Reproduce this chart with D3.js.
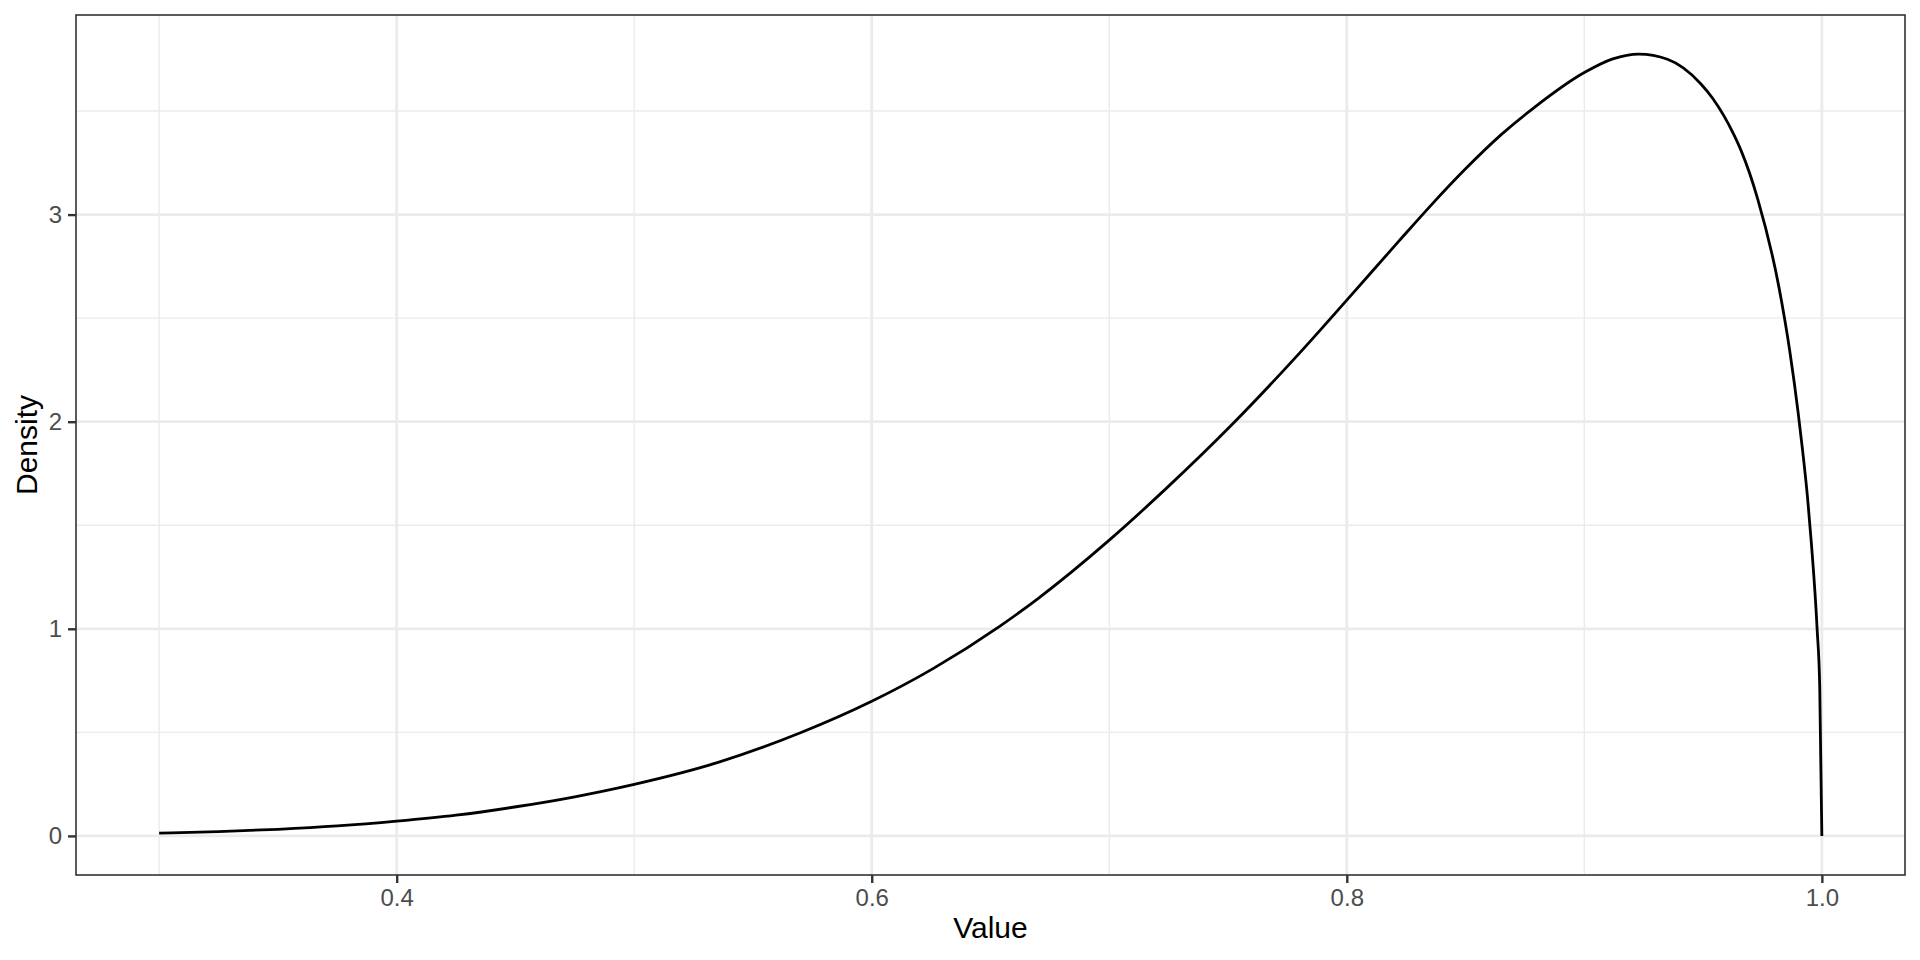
<!DOCTYPE html>
<html>
<head>
<meta charset="utf-8">
<script src="https://cdn.jsdelivr.net/npm/d3@7"></script>
<style>
  body { margin: 0; background: #fff; }
  text { font-family: "Liberation Sans", Arial, sans-serif; }
</style>
</head>
<body>
<script>
// values
const xValues = [0.300, 0.325, 0.350, 0.375, 0.400, 0.425, 0.451, 0.475, 0.486, 0.500,
    0.535, 0.570, 0.600, 0.626, 0.654, 0.670, 0.700, 0.724, 0.752, 0.780,
    0.800, 0.822, 0.836, 0.850, 0.865, 0.879, 0.900, 0.912, 0.923, 0.935,
    0.949, 0.954, 0.963, 0.966, 0.973, 0.982, 0.9865, 0.990, 0.992, 0.994,
    0.9956, 0.998, 0.9991, 1.000];
const densityValues = [0.013, 0.021, 0.032, 0.048, 0.071, 0.100, 0.142, 0.189, 0.214, 0.249,
    0.354, 0.498, 0.650, 0.809, 1.013, 1.146, 1.428, 1.678, 1.990, 2.330,
    2.587, 2.873, 3.052, 3.221, 3.386, 3.518, 3.686, 3.752, 3.775, 3.750,
    3.632, 3.562, 3.385, 3.309, 3.075, 2.645, 2.340, 2.045, 1.850, 1.630,
    1.410, 1.000, 0.720, 0.000];

const xTicks = [0.4, 0.6, 0.8, 1.0];
const xTickLabels = ["0.4", "0.6", "0.8", "1.0"];
const xMinor = [0.3, 0.5, 0.7, 0.9];
const yTicks = [0, 1, 2, 3];
const yTickLabels = ["0", "1", "2", "3"];
const yMinor = [0.5, 1.5, 2.5, 3.5];

const data = xValues.map((x, i) => ({x: x, y: densityValues[i]}));

// set the dimensions and margins of the graph
const W = 1920, H = 960;
const margin = {top: 15, right: 15, bottom: 85, left: 76},
    width = W - margin.left - margin.right,
    height = H - margin.top - margin.bottom;

const svg = d3.select("body").append("svg")
    .attr("width", W)
    .attr("height", H);

const g = svg.append("g")
    .attr("transform", `translate(${margin.left},${margin.top})`);

// ggplot-style 5% expansion
const xr = d3.extent(xValues), xpad = (xr[1] - xr[0]) * 0.05;
const x = d3.scaleLinear()
    .domain([xr[0] - xpad, xr[1] + xpad])
    .range([0, width]);

const ymax = d3.max(densityValues), ypad = ymax * 0.05;
const y = d3.scaleLinear()
    .domain([-ypad, ymax + ypad])
    .range([height, 0]);

// grid lines
g.selectAll(".minor-x").data(xMinor).enter().append("line")
    .attr("x1", d => x(d)).attr("x2", d => x(d))
    .attr("y1", 0).attr("y2", height)
    .attr("stroke", "#ebebeb").attr("stroke-width", 1.4);
g.selectAll(".minor-y").data(yMinor).enter().append("line")
    .attr("y1", d => y(d)).attr("y2", d => y(d))
    .attr("x1", 0).attr("x2", width)
    .attr("stroke", "#ebebeb").attr("stroke-width", 1.4);
g.selectAll(".major-x").data(xTicks).enter().append("line")
    .attr("x1", d => x(d)).attr("x2", d => x(d))
    .attr("y1", 0).attr("y2", height)
    .attr("stroke", "#ebebeb").attr("stroke-width", 2.8);
g.selectAll(".major-y").data(yTicks).enter().append("line")
    .attr("y1", d => y(d)).attr("y2", d => y(d))
    .attr("x1", 0).attr("x2", width)
    .attr("stroke", "#ebebeb").attr("stroke-width", 2.8);

// density curve
const line = d3.line()
    .x(d => x(d.x))
    .y(d => y(d.y))
    .curve(d3.curveMonotoneX);

g.append("path")
    .datum(data)
    .attr("fill", "none")
    .attr("stroke", "#000")
    .attr("stroke-width", 2.8)
    .attr("stroke-linejoin", "round")
    .attr("d", line);

// panel border
g.append("rect")
    .attr("x", 0).attr("y", 0)
    .attr("width", width).attr("height", height)
    .attr("fill", "none")
    .attr("stroke", "#333333")
    .attr("stroke-width", 1.6);

// axes
const xAxis = g.append("g")
    .attr("transform", `translate(0,${height})`)
    .call(d3.axisBottom(x).tickValues(xTicks)
        .tickFormat((d, i) => xTickLabels[i])
        .tickSize(8).tickPadding(6));

const yAxis = g.append("g")
    .call(d3.axisLeft(y).tickValues(yTicks)
        .tickFormat((d, i) => yTickLabels[i])
        .tickSize(8).tickPadding(6));

[xAxis, yAxis].forEach(a => {
    a.select(".domain").remove();
    a.selectAll(".tick line").attr("stroke", "#333333").attr("stroke-width", 2.4);
    a.selectAll(".tick text")
        .attr("fill", "#4d4d4d")
        .style("font-size", "24px")
        .style("font-family", "'Liberation Sans', Arial, sans-serif");
});

// axis titles
svg.append("text")
    .attr("text-anchor", "middle")
    .attr("x", margin.left + width / 2)
    .attr("y", 938)
    .style("font-size", "30px")
    .attr("fill", "#000")
    .text("Value");

svg.append("text")
    .attr("text-anchor", "middle")
    .attr("transform", `translate(37,${margin.top + height / 2}) rotate(-90)`)
    .style("font-size", "30px")
    .attr("fill", "#000")
    .text("Density");
</script>
</body>
</html>
